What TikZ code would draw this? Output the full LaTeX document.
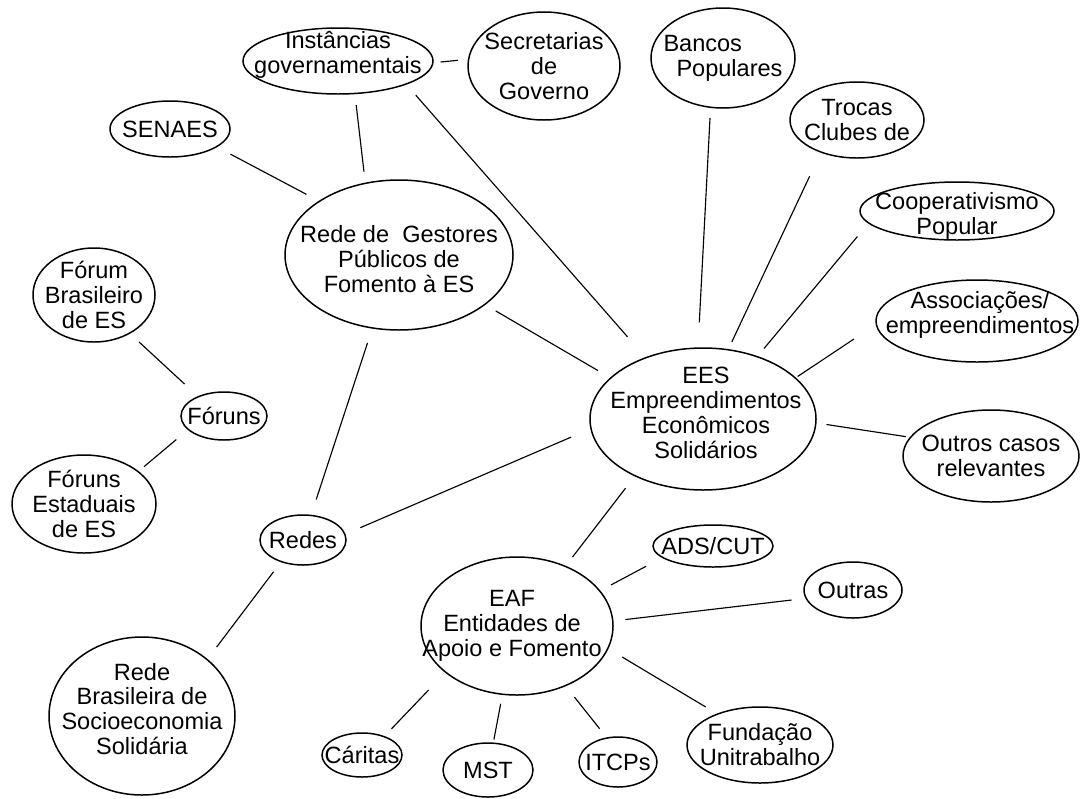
\documentclass[tikz,border=0pt]{standalone}
\usepackage{fontspec}
\setmainfont{Liberation Sans}
\usetikzlibrary{shapes.geometric}
\newlength{\unitpx}
\setlength{\unitpx}{0.02cm}
\newcommand{\diagfont}{\fontsize{13.4pt}{14.2pt}\selectfont}
\tikzset{
  bubble/.style={draw, ellipse, inner sep=0pt, line width=0.85pt},
  ellsize/.style 2 args={minimum width=#1\unitpx, minimum height=#2\unitpx},
  txt/.style={align=center, font=\diagfont, inner sep=0pt},
  link/.style={line width=0.65pt}
}
\begin{document}
\begin{tikzpicture}[x=0.02cm, y=-0.02cm]
\useasboundingbox (0,0) rectangle (1081,798);
% top: government bodies
\node[bubble, ellsize={190}{66}, label={[txt, yshift=6\unitpx]center:Instâncias\\governamentais}] (inst) at (338,61) {};
\node[bubble, ellsize={152}{108}, label={[txt]center:Secretarias\\de\\Governo}] (sec) at (544,66) {};
\node[bubble, ellsize={120}{56}, label={[txt]center:SENAES}] (senaes) at (170,129) {};
\node[bubble, ellsize={228}{150}, label={[txt, yshift=-4\unitpx]center:Rede de~ Gestores\\Públicos de\\Fomento à ES}] (ges) at (399,255) {};
% right: EES and its kinds
\node[bubble, ellsize={144}{100}, label={[txt, align=left]center:Bancos\\\hspace*{13\unitpx}Populares}] (bancos) at (723,58) {};
\node[bubble, ellsize={134}{76}, label={[txt]center:Trocas\\Clubes de}] (trocas) at (857,120) {};
\node[bubble, ellsize={194}{58}, label={[txt, yshift=-5\unitpx]center:Cooperativismo\\Popular}] (coop) at (957,211) {};
\node[bubble, ellsize={202}{82}, label={[txt, yshift=6\unitpx, xshift=3\unitpx]center:Associações/\\empreendimentos}] (assoc) at (977,321) {};
\node[bubble, ellsize={176}{92}, label={[txt]center:Outros casos\\relevantes}] (outros) at (991,456) {};
\node[bubble, ellsize={226}{142}, label={[txt, yshift=6\unitpx, xshift=3\unitpx]center:EES\\Empreendimentos\\Econômicos\\Solidários}] (ees) at (703,419) {};
% left: forums and networks
\node[bubble, ellsize={122}{94}, label={[txt]center:Fórum\\Brasileiro\\de ES}] (forumb) at (94,295) {};
\node[bubble, ellsize={86}{48}, label={[txt]center:Fóruns}] (foruns) at (224,416) {};
\node[bubble, ellsize={144}{98}, label={[txt]center:Fóruns\\Estaduais\\de ES}] (forume) at (84,504) {};
\node[bubble, ellsize={86}{50}, label={[txt]center:Redes}] (redes) at (303,540) {};
\node[bubble, ellsize={186}{158}, label={[txt, yshift=7\unitpx]center:Rede\\Brasileira de\\Socioeconomia\\Solidária}] (rbs) at (142,716) {};
% bottom: EAF and its entities
\node[bubble, ellsize={192}{138}, label={[txt, xshift=-5\unitpx]center:EAF\\Entidades de\\Apoio e Fomento}] (eaf) at (517,626) {};
\node[bubble, ellsize={120}{42}, label={[txt]center:ADS/CUT}] (ads) at (713,546) {};
\node[bubble, ellsize={98}{56}, label={[txt]center:Outras}] (outras) at (853,590) {};
\node[bubble, ellsize={146}{76}, label={[txt]center:Fundação\\Unitrabalho}] (fund) at (760,745) {};
\node[bubble, ellsize={78}{50}, label={[txt]center:ITCPs}] (itcps) at (618,762) {};
\node[bubble, ellsize={90}{54}, label={[txt]center:MST}] (mst) at (488,770) {};
\node[bubble, ellsize={80}{44}, label={[txt]center:Cáritas}] (caritas) at (362,755) {};
% connectors
\draw[link, shorten <=7\unitpx, shorten >=10\unitpx] (inst.-1) -- (sec.175);
\draw[link, shorten <=11\unitpx, shorten >=11\unitpx] (inst.-63) -- (ges.115);
\draw[link, shorten <=14\unitpx, shorten >=27\unitpx] (inst.-19) -- (ees.133);
\draw[link, shorten <=15\unitpx, shorten >=14\unitpx] (senaes.-21) -- (ges.146);
\draw[link, shorten <=12\unitpx, shorten >=18\unitpx] (forumb.-47) -- (foruns.143);
\draw[link, shorten <=15\unitpx, shorten >=7\unitpx] (foruns.201) -- (forume.31);
\draw[link, shorten <=15\unitpx, shorten >=16\unitpx] (ges.-110) -- (redes.72);
\draw[link, shorten <=16\unitpx, shorten >=21\unitpx] (redes.8) -- (ees.185);
\draw[link, shorten <=12\unitpx, shorten >=15\unitpx] (redes.-135) -- (rbs.41);
\draw[link, shorten <=12\unitpx, shorten >=14\unitpx] (ges.-30) -- (ees.156);
\draw[link, shorten <=10\unitpx, shorten >=25\unitpx] (bancos.-104) -- (ees.94);
\draw[link, shorten <=26\unitpx, shorten >=8\unitpx] (trocas.-138) -- (ees.70);
\draw[link, shorten <=17\unitpx, shorten >=10\unitpx] (coop.188) -- (ees.49);
\draw[link, shorten <=26\unitpx, shorten >=2\unitpx] (assoc.182) -- (ees.24);
\draw[link, shorten <=10\unitpx, shorten >=4\unitpx] (ees.-2) -- (outros.167);
\draw[link, shorten <=15\unitpx, shorten >=11\unitpx] (ees.-140) -- (eaf.51);
\draw[link, shorten <=12\unitpx, shorten >=18\unitpx] (eaf.23) -- (ads.193);
\draw[link, shorten <=12\unitpx, shorten >=14\unitpx] (eaf.3) -- (outras.190);
\draw[link, shorten <=16\unitpx, shorten >=13\unitpx] (eaf.-14) -- (fund.144);
\draw[link, shorten <=14\unitpx, shorten >=11\unitpx] (eaf.-51) -- (itcps.115);
\draw[link, shorten <=9\unitpx, shorten >=3\unitpx] (eaf.-102) -- (mst.79);
\draw[link, shorten <=24\unitpx, shorten >=10\unitpx] (eaf.-147) -- (caritas.40);
\end{tikzpicture}
\end{document}
